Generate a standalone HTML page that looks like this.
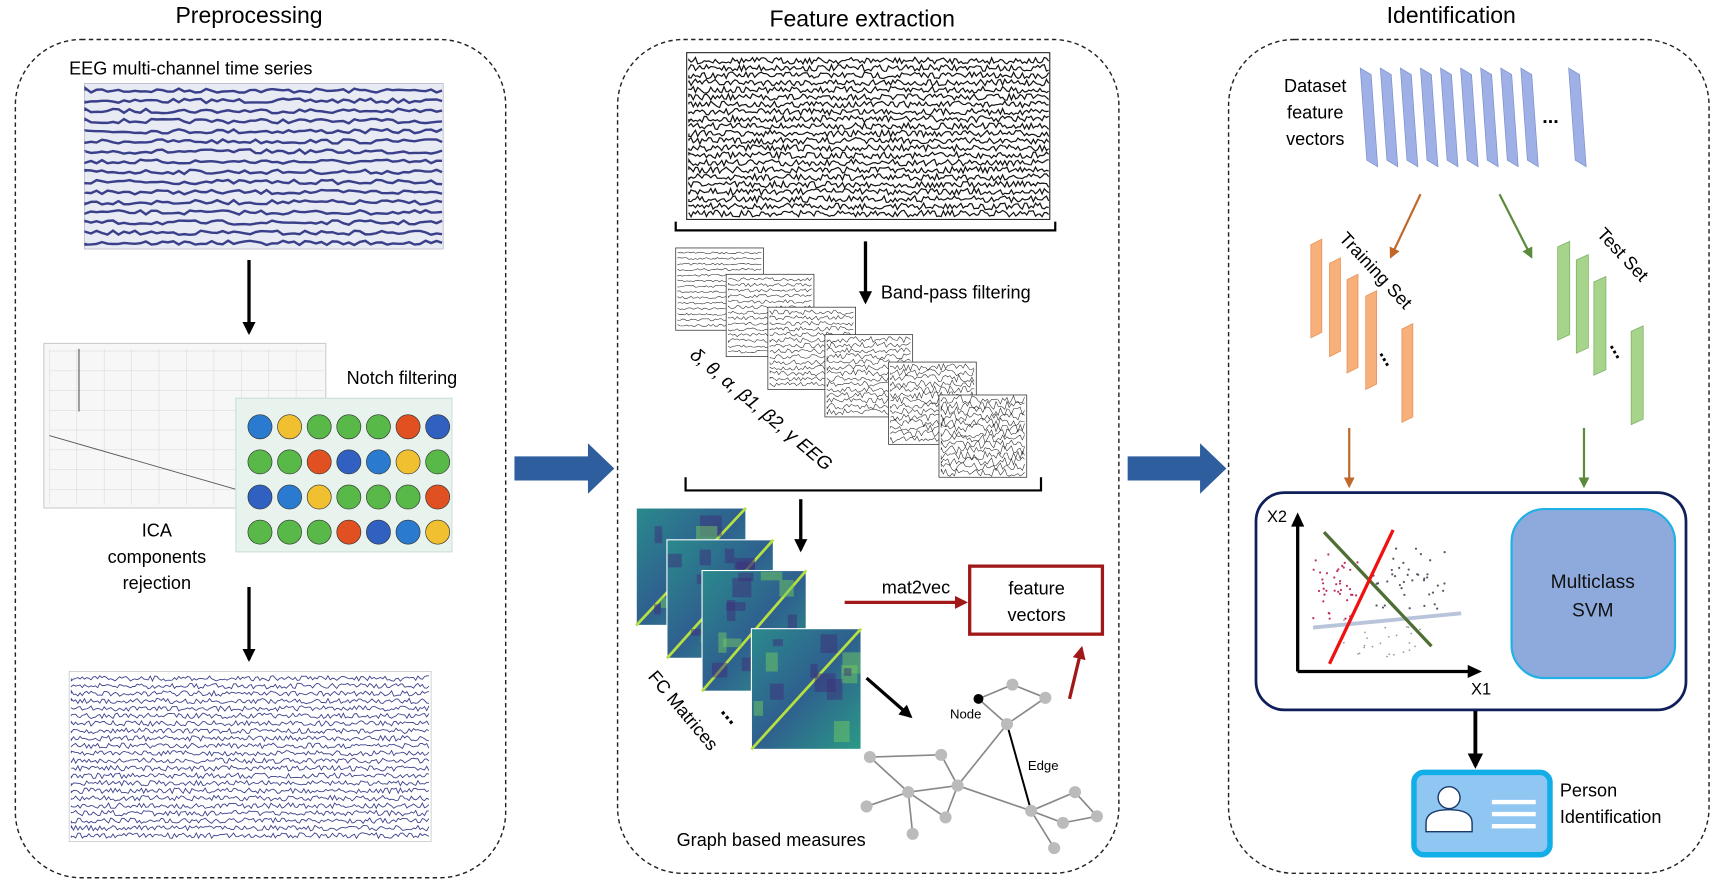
<!DOCTYPE html>
<html><head><meta charset="utf-8"><style>
html,body{margin:0;padding:0;background:#fff}
svg{display:block}
text{font-family:"Liberation Sans","DejaVu Sans",sans-serif}
</style></head><body>
<svg id="s" width="1720" height="892" viewBox="0 0 1568 813" preserveAspectRatio="none" xmlns="http://www.w3.org/2000/svg">
<defs>
<marker id="ak" viewBox="0 0 10 10" refX="8" refY="5" markerWidth="4" markerHeight="4" orient="auto"><path d="M0,0L10,5L0,10z" fill="#000"/></marker>
<marker id="ar" viewBox="0 0 10 10" refX="8" refY="5" markerWidth="4" markerHeight="4" orient="auto"><path d="M0,0L10,5L0,10z" fill="#a01818"/></marker>
<marker id="ab" viewBox="0 0 10 10" refX="8" refY="5" markerWidth="5" markerHeight="5" orient="auto"><path d="M0,0L10,5L0,10z" fill="#c0682a"/></marker>
<marker id="ag" viewBox="0 0 10 10" refX="8" refY="5" markerWidth="5" markerHeight="5" orient="auto"><path d="M0,0L10,5L0,10z" fill="#5a8a3a"/></marker>
<linearGradient id="fc" x1="0" y1="0" x2="1" y2="1"><stop offset="0" stop-color="#2a8a8c"/><stop offset=".5" stop-color="#2f5f8f"/><stop offset="1" stop-color="#2a9a86"/></linearGradient>
</defs>
<text x="227" y="21" font-size="21" text-anchor="middle">Preprocessing</text>
<text x="786" y="24" font-size="21" text-anchor="middle">Feature extraction</text>
<text x="1323" y="21" font-size="21" text-anchor="middle">Identification</text>
<g fill="none" stroke="#222" stroke-width="1.3" stroke-dasharray="4,3">
<rect x="14" y="36" width="447" height="764" rx="60"/>
<rect x="563" y="36" width="457" height="760" rx="60"/>
<rect x="1120" y="36" width="438" height="760" rx="60"/>
</g>
<path d="M469,416H536V404L560,427L536,450V438H469z" fill="#2e5e9e"/>
<path d="M1028,416H1094V404L1118,427L1094,450V438H1028z" fill="#2e5e9e"/>
<text x="63" y="68" font-size="16.5">EEG multi-channel time series</text>
<rect x="77" y="76" width="327" height="151" fill="#e8eaf4" stroke="#aab" stroke-width=".6"/>
<g id="eeg1"></g>
<line x1="227" y1="237" x2="227" y2="303" stroke="#000" stroke-width="3" marker-end="url(#ak)"/>
<rect x="40" y="313" width="257" height="150" fill="#f7f7f7" stroke="#ccc"/>
<g id="grid1" stroke="#ddd" stroke-width=".6"></g>
<line x1="72" y1="318" x2="72" y2="375" stroke="#555" stroke-width="1"/>
<line x1="45" y1="397" x2="215" y2="446" stroke="#555" stroke-width=".8"/>
<rect x="215" y="363" width="197" height="140" fill="#e9f3ee" stroke="#cdd"/>
<g id="topo"></g>
<text x="316" y="350" font-size="16.5">Notch filtering</text>
<text x="143" y="489" font-size="16.5" text-anchor="middle">ICA</text>
<text x="143" y="513" font-size="16.5" text-anchor="middle">components</text>
<text x="143" y="537" font-size="16.5" text-anchor="middle">rejection</text>
<line x1="227" y1="535" x2="227" y2="601" stroke="#000" stroke-width="3" marker-end="url(#ak)"/>
<rect x="63" y="612" width="330" height="155" fill="#fff" stroke="#bbb" stroke-width=".6"/>
<g id="eeg3"></g>
<rect x="626" y="48" width="331" height="152" fill="#fff" stroke="#222" stroke-width="1"/>
<g id="eeg2"></g>
<path d="M616,202V210H962V202" fill="none" stroke="#000" stroke-width="2"/>
<line x1="789" y1="220" x2="789" y2="275" stroke="#000" stroke-width="3" marker-end="url(#ak)"/>
<text x="803" y="272" font-size="16.5">Band-pass filtering</text>
<g id="bands"></g>
<text transform="translate(628,325) rotate(40)" font-size="17" font-family="Liberation Serif,serif" font-style="italic">δ, θ, α, β1, β2, γ EEG</text>
<path d="M625,435V447H949V435" fill="none" stroke="#000" stroke-width="2"/>
<line x1="730" y1="455" x2="730" y2="501" stroke="#000" stroke-width="3" marker-end="url(#ak)"/>
<g id="fcm"></g>
<text transform="translate(590,617) rotate(50)" font-size="16.5">FC Matrices</text>
<text x="660" y="655" font-size="20" font-weight="bold" transform="rotate(50,665,648)">...</text>
<text x="835" y="541" font-size="16.5" text-anchor="middle">mat2vec</text>
<line x1="770" y1="549" x2="880" y2="549" stroke="#a01818" stroke-width="3" marker-end="url(#ar)"/>
<rect x="884" y="516" width="121" height="62" fill="#fff" stroke="#a01818" stroke-width="3"/>
<text x="945" y="542" font-size="16.5" text-anchor="middle">feature</text>
<text x="945" y="566" font-size="16.5" text-anchor="middle">vectors</text>
<line x1="975" y1="637" x2="986" y2="591" stroke="#a01818" stroke-width="3" marker-end="url(#ar)"/>
<line x1="790" y1="618" x2="830" y2="653" stroke="#000" stroke-width="3" marker-end="url(#ak)"/>
<g id="graph"></g>
<text x="866" y="655" font-size="12" font-family="Liberation Serif,serif">Node</text>
<text x="937" y="702" font-size="12" font-family="Liberation Serif,serif">Edge</text>
<text x="703" y="771" font-size="16.5" text-anchor="middle">Graph based measures</text>
<text x="1199" y="84" font-size="16.5" text-anchor="middle">Dataset</text>
<text x="1199" y="108" font-size="16.5" text-anchor="middle">feature</text>
<text x="1199" y="132" font-size="16.5" text-anchor="middle">vectors</text>
<g id="dvec"></g>
<text x="1406" y="112" font-size="18" font-weight="bold">...</text>
<line x1="1295" y1="177" x2="1268" y2="234" stroke="#c0682a" stroke-width="2" marker-end="url(#ab)"/>
<line x1="1367" y1="177" x2="1396" y2="234" stroke="#5a8a3a" stroke-width="2" marker-end="url(#ag)"/>
<g id="tr"></g>
<text transform="translate(1220,218) rotate(47)" font-size="16.5">Training Set</text>
<text transform="translate(1455,214) rotate(47)" font-size="16.5">Test Set</text>
<text transform="translate(1257,322) rotate(60)" font-size="18" font-weight="bold">...</text>
<text transform="translate(1467,315) rotate(60)" font-size="18" font-weight="bold">...</text>
<line x1="1230" y1="390" x2="1230" y2="443" stroke="#c0682a" stroke-width="2" marker-end="url(#ab)"/>
<line x1="1444" y1="390" x2="1444" y2="443" stroke="#5a8a3a" stroke-width="2" marker-end="url(#ag)"/>
<rect x="1145" y="449" width="392" height="198" rx="26" fill="#fff" stroke="#0f1f5a" stroke-width="2.5"/>
<rect x="1378" y="464" width="149" height="154" rx="30" fill="#8ea9db" stroke="#1fb0e6" stroke-width="2"/>
<text x="1452" y="536" font-size="17.5" text-anchor="middle" fill="#111">Multiclass</text>
<text x="1452" y="562" font-size="17.5" text-anchor="middle" fill="#111">SVM</text>
<g id="dots"></g>
<line x1="1197" y1="572" x2="1332" y2="559" stroke="#b8c4da" stroke-width="3.5"/>
<line x1="1207" y1="485" x2="1305" y2="589" stroke="#4e6e34" stroke-width="3"/>
<line x1="1212" y1="605" x2="1270" y2="483" stroke="#f01010" stroke-width="3"/>
<path d="M1183,612V476M1183,612H1342" fill="none" stroke="#000" stroke-width="3"/>
<path d="M1177,480L1183,467L1189,480z M1338,606L1351,612L1338,618z" fill="#000"/>
<text x="1155" y="476" font-size="15">X2</text>
<text x="1341" y="633" font-size="15">X1</text>
<line x1="1345" y1="648" x2="1345" y2="698" stroke="#000" stroke-width="3.5" marker-end="url(#ak)"/>
<rect x="1289" y="704" width="124" height="75" rx="9" fill="#8fc6f2" stroke="#12aee8" stroke-width="5"/>
<circle cx="1321" cy="727" r="10" fill="#fff" stroke="#1a3a6a" stroke-width="1.3"/>
<path d="M1300,758V750Q1300,738 1321,738Q1342,738 1342,750V758z" fill="#fff" stroke="#1a3a6a" stroke-width="1.3"/>
<g stroke="#fff" stroke-width="4"><line x1="1360" y1="731" x2="1400" y2="731"/><line x1="1360" y1="742" x2="1400" y2="742"/><line x1="1360" y1="753" x2="1400" y2="753"/></g>
<text x="1422" y="726" font-size="16.5">Person</text>
<text x="1422" y="750" font-size="16.5">Identification</text>
</svg>
<script>
var NS="http://www.w3.org/2000/svg";
function el(p,t,a){var e=document.createElementNS(NS,t);for(var k in a)e.setAttribute(k,a[k]);p.appendChild(e);return e;}
var seed=7;function r(){seed=(seed*16807)%2147483647;return seed/2147483647;}
function waves(id,x,y,w,h,n,col,sw,amp,step){var g=document.getElementById(id);for(var i=0;i<n;i++){var cy=y+(i+0.5)*h/n,d="M"+x+","+cy;for(var xx=x;xx<=x+w;xx+=step){d+="L"+xx.toFixed(1)+","+(cy+(r()-.5)*amp).toFixed(1);}el(g,"path",{d:d,fill:"none",stroke:col,"stroke-width":sw});}}
waves("eeg1",78,78,325,148,16,"#3a3f8a",2.2,4,5);
waves("eeg2",628,52,328,146,22,"#111",1.1,6,2);
waves("eeg3",65,615,327,150,22,"#3a3f8a",.8,5,2);
var g1=document.getElementById("grid1");
for(var i=0;i<10;i++)el(g1,"line",{x1:45+i*25,y1:318,x2:45+i*25,y2:460});
for(var j=0;j<8;j++)el(g1,"line",{x1:45,y1:320+j*18,x2:295,y2:320+j*18});
var tp=document.getElementById("topo"),cols=["#2a7bd0","#f0c030","#58b848","#58b848","#58b848","#e05020","#3060c0"];
for(var rr=0;rr<4;rr++)for(var c=0;c<7;c++){el(tp,"circle",{cx:237+c*27,cy:389+rr*32,r:11,fill:cols[(c+rr*3)%7],stroke:"#333","stroke-width":.6});}
var bd=document.getElementById("bands"),bx=[[616,226],[662,250],[700,280],[752,305],[810,330],[856,360]];
bx.forEach(function(b,i){el(bd,"rect",{x:b[0],y:b[1],width:80,height:75,fill:"#fff",stroke:"#333","stroke-width":.7});var gid="bw"+i;el(bd,"g",{id:gid});waves(gid,b[0]+2,b[1]+2,76,71,14,"#222",.5,2+i*1.2,2);});
var fc=document.getElementById("fcm");
[[580,463,100,107],[608,492,97,108],[640,520,95,110],[685,573,100,110]].forEach(function(m){el(fc,"rect",{x:m[0],y:m[1],width:m[2],height:m[3],fill:"url(#fc)",stroke:"#fff","stroke-width":1});el(fc,"line",{x1:m[0],y1:m[1]+m[3],x2:m[0]+m[2],y2:m[1],stroke:"#b6e040","stroke-width":2.5});for(var k=0;k<12;k++)el(fc,"rect",{x:m[0]+r()*(m[2]-15),y:m[1]+r()*(m[3]-15),width:6+r()*14,height:6+r()*14,fill:r()>.5?"#3d2d7a":"#6fc860",opacity:.5});});
var gr=document.getElementById("graph");
var N=[[892,637],[923,624],[953,636],[918,660],[858,688],[793,690],[828,722],[873,716],[940,739],[980,722],[1000,744],[961,773],[969,750],[790,735],[832,760],[862,745]];
var E=[[0,1],[1,2],[2,3],[0,3],[3,7],[4,5],[5,6],[4,7],[6,7],[6,13],[6,14],[6,15],[15,7],[7,8],[8,9],[9,10],[10,12],[8,12],[8,11]];
E.forEach(function(e){el(gr,"line",{x1:N[e[0]][0],y1:N[e[0]][1],x2:N[e[1]][0],y2:N[e[1]][1],stroke:"#888","stroke-width":1.5});});
el(gr,"line",{x1:918,y1:660,x2:940,y2:739,stroke:"#000","stroke-width":1.8});
N.forEach(function(n,i){el(gr,"circle",{cx:n[0],cy:n[1],r:i==0?4.5:5.5,fill:i==0?"#000":"#bbb"});});
var dv=document.getElementById("dvec");
for(var i=0;i<10;i++){var x=i<9?1240+i*18.3:1430;el(dv,"path",{d:"M"+x+",62L"+(x+10)+",68L"+(x+16)+",152L"+(x+6)+",146z",fill:"#9fb0e6",stroke:"#7a8cc8","stroke-width":.6});}
var tr=document.getElementById("tr");
[[1195,218],[1212,235],[1228,250],[1245,265],[1278,295]].forEach(function(p){el(tr,"path",{d:"M"+p[0]+","+(p[1]+5)+"L"+(p[0]+10)+","+p[1]+"L"+(p[0]+10)+","+(p[1]+85)+"L"+p[0]+","+(p[1]+90)+"z",fill:"#f7b07a",stroke:"#e89058","stroke-width":.7});});
[[1420,220],[1437,232],[1453,252],[1487,297]].forEach(function(p){el(tr,"path",{d:"M"+p[0]+","+(p[1]+5)+"L"+(p[0]+11)+","+p[1]+"L"+(p[0]+11)+","+(p[1]+85)+"L"+p[0]+","+(p[1]+90)+"z",fill:"#a6d48a",stroke:"#80b068","stroke-width":.7});});
var dt=document.getElementById("dots");
for(var i=0;i<40;i++)el(dt,"circle",{cx:1195+r()*45,cy:505+r()*60,r:1,fill:"#c03060"});
for(var i=0;i<40;i++)el(dt,"circle",{cx:1252+r()*65,cy:500+r()*55,r:1,fill:"#556"});
for(var i=0;i<25;i++)el(dt,"circle",{cx:1225+r()*70,cy:565+r()*35,r:.8,fill:"#999"});
</script>
</body></html>
